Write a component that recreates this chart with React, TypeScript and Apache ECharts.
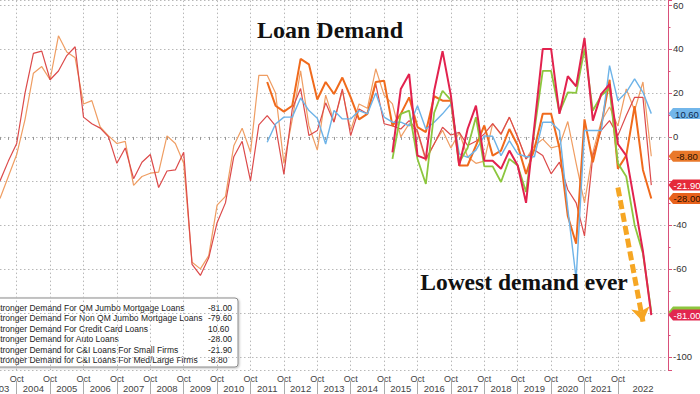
import React, { useEffect, useRef } from 'react';
import * as echarts from 'echarts';

// Quarterly categories from mid-2003 to mid-2023
const START_YEAR = 2003.5;
const N_CATS = 81;
const categories: string[] = Array.from({ length: N_CATS }, (_, i) => {
  const t = START_YEAR + i / 4;
  const y = Math.floor(t);
  const q = Math.round((t - y) * 4) + 1;
  return `${y} Q${q}`;
});

// Series values (index 0 = first category)
const cniLargeStart = 0;
const cniLarge = [
  -28, -18, -8, 8, 29, 32, 26, 46, 38.6, 36, 15, 16.5, 4.5, 0.5, -3, -2, -22, -18, -16.5, -16,
  0.5, -3, -12, -57, -60, -54, -31, -27, -4, 4, -7, 28, 28, 20, -12, 8, 30, 5, -6, 19,
  7, 21, 3, 15, 13, 31, 19, 15, 0, 6, 2, -11, -3, 3, -5, 2, -9, -12, -11, 6,
  1, 9, 0, -10, -4, -1, -5, -4, 7, -12, -30, -7, 7, 13.6, 5, 21.8, 12, 25, -8.8,
];
const cniSmallStart = 0;
const cniSmall = [
  -20, -11, -3, 20, 38, 39, 26, 30, 37, 41, 9, 6, 4, 0, -12, -5, -19, -11.5, -8, -23,
  -15.5, -15, -7, -58, -63, -55, -39, -30, -9, -2, -20, 5.5, 9.7, 5, -17, 12.7, 22, 0.6, 2.9, 15.5,
  6.7, 21.8, 0.6, 12.7, 10.5, 24, 6, 5, 3.6, 7.4, 2.7, -10, -3.2, 4.4, 0.9, 2.1, -3.9, -2, 1.4, 6,
  1.4, 9, 0, -10, -6, -8.5, -16.8, -11.5, -24, -30, -45, -8.5, 3, 7.4, 0.6, 9.7, 18, 18, -21.9,
];
const creditCardStart = 32;
const creditCard = [
  -2.4, 5.9, 9, 9, 17.7, 12, 8.5, -3.2, 12, 8.2, 8.2, 12, 10.5, 20, 9, 6.7, 6.7, 5, 14.2, 3.6,
  6.7, 10.5, 15, -7.7, -9.3, -6, 0.5, 0.3, -8.5, -1.7, -7.7, -9, -9, 6.7, 6.7, 2.9, -32.7, -64.5, 2.9, 2.9,
  2.9, 32.4, 16.5, 20.3, 26.4, 20.3, 10.6,
];
const autoStart = 32;
const autoLoans = [
  25, 14.2, 11.5, 14.2, 35.5, 33, 17, 25, 19.5, 27, 18, 8, 10.5, 25, 25.6, 5, 10.5, 18, 4.5, 2.2,
  18.5, 16.5, 16.5, -13, -13, -4, 5.2, -8.5, -6.2, 3.6, -3.9, -16.8, -5.5, 10.5, 10.5, -5, -36, -48.6, 8, -11.5,
  5, 26, -14.5, -8.5, 14, -15, -28,
];
const nonQmStart = 47;
const nonQmJumbo = [
  -10, 10.5, 12, -10, -21.4, 11, 21, 16.7, -11.5, -5, 9, -13.4, -13.4, -20.5, -10, -13, -25, 3, 30, 30,
  11.2, 20.3, 20, 40, 12, 18.8, 22, -12, -18, -40, -53, -79.6,
];
const qmStart = 47;
const qmJumbo = [
  -7, 21.8, 28.6, -8.5, -10, 21, 39, 18.8, -13, 3.6, 14.2, -10.8, -10.8, -14.5, -6.2, -13, -30, 5, 40, 40,
  10.5, 27.6, 23, 45, 7.4, 19.5, 24, -3.2, -8.5, -30, -52, -81,
];

// y-axis labels that sit under the value tags in the reference
const hiddenYLabels = [-80, -20];

const names = [
  'Stronger Demand For QM Jumbo Mortgage Loans',
  'Stronger Demand For Non QM Jumbo Mortgage Loans',
  'Stronger Demand For Credit Card Loans',
  'Stronger Demand for Auto Loans',
  'Stronger Demand for C&I Loans For Small Firms',
  'Stronger Demand for C&I Loans For Med/Large Firms',
];

const FONT = '"Liberation Sans", Arial, sans-serif';
const SERIF = '"Liberation Serif", "DejaVu Serif", serif';

function pad(start: number, vals: number[]) {
  const a: (number | null)[] = new Array(N_CATS).fill(null);
  vals.forEach((v, i) => (a[start + i] = v));
  return a;
}

const tagPath = 'path://M0,5.5L4.5,0L33,0L33,11L4.5,11Z';

function makeSeries(
  name: string,
  start: number,
  vals: number[],
  color: string,
  width: number,
  tagColor: string,
  tagText: string,
  z: number,
  showTagText = true,
) {
  const last = vals[vals.length - 1];
  return {
    name,
    type: 'line',
    data: pad(start, vals),
    symbol: 'none',
    z,
    lineStyle: { color, width },
    itemStyle: { color },
    connectNulls: false,
    markPoint: {
      silent: true,
      symbol: tagPath,
      symbolSize: [33, 11],
      symbolOffset: [17, 0],
      symbolKeepAspect: false,
      itemStyle: { color: tagColor },
      label: {
        show: showTagText,
        position: 'inside',
        offset: [2, 0.5],
        formatter: last.toFixed(2),
        color: tagText,
        fontSize: 9.5,
        fontFamily: FONT,
      },
      data: [{ coord: [categories[N_CATS - 1], last], value: last }],
    },
  } as any;
}

export default function App() {
  const ref = useRef<HTMLDivElement>(null);
  useEffect(() => {
    document.body.style.margin = '0';
    if (!ref.current) return;
    const chart = echarts.init(ref.current, undefined, { renderer: 'svg' });

    const isYearStart = (i: number) => i % 4 === 2 && i >= 2 && i <= 74;

    const series = [
      makeSeries(names[5], cniLargeStart, cniLarge, '#ef9d62', 1.2, '#e9782a', '#2a1200', 2),
      makeSeries(names[4], cniSmallStart, cniSmall, '#dc4a4a', 1.2, '#e52a3a', '#ffffff', 2),
      makeSeries(names[3], autoStart, autoLoans, '#f06a1c', 2, '#e8621c', '#2a1000', 2),
      makeSeries(names[2], creditCardStart, creditCard, '#6db3e8', 1.4, '#72b6ea', '#0e2a4e', 2),
      makeSeries(names[1], nonQmStart, nonQmJumbo, '#8cc63e', 1.8, '#8cc63e', '#16300a', 2, false),
      makeSeries(names[0], qmStart, qmJumbo, '#e2224e', 2, '#e2264f', '#ffffff', 3),
    ];
    // annotation arrow
    series[5].markLine = {
      silent: true,
      symbol: ['none', 'arrow'],
      symbolSize: [14, 14],
      lineStyle: { color: '#f6a623', width: 5, type: [9, 4], opacity: 1 },
      label: { show: false },
      data: [[{ coord: [categories[74], -23] }, { coord: [categories[77], -84] }]],
    };

    const legendRows = [
      { name: names[0], v: qmJumbo[qmJumbo.length - 1] },
      { name: names[1], v: nonQmJumbo[nonQmJumbo.length - 1] },
      { name: names[2], v: creditCard[creditCard.length - 1] },
      { name: names[3], v: autoLoans[autoLoans.length - 1] },
      { name: names[4], v: cniSmall[cniSmall.length - 1] },
      { name: names[5], v: cniLarge[cniLarge.length - 1] },
    ];
    const legendChildren: any[] = [
      {
        type: 'rect',
        shape: { x: -10, y: 298, width: 248, height: 69, r: 3 },
        style: { fill: '#ffffff', stroke: '#8a8a8a', lineWidth: 1, shadowColor: 'rgba(0,0,0,0.25)', shadowBlur: 2, shadowOffsetX: 1, shadowOffsetY: 1 },
      },
    ];
    legendRows.forEach((r, k) => {
      const y = 308 + k * 10.4;
      legendChildren.push({
        type: 'text',
        x: -5.5,
        y,
        style: { text: r.name, font: `8.5px ${FONT}`, fill: '#222', align: 'left', verticalAlign: 'middle' },
      });
      legendChildren.push({
        type: 'text',
        x: 208,
        y,
        style: { text: r.v.toFixed(2), font: `8.5px ${FONT}`, fill: '#222', align: 'left', verticalAlign: 'middle' },
      });
    });

    const option: any = {
      animation: false,
      textStyle: { fontFamily: FONT },
      grid: { left: 0, right: 32, top: 0, bottom: 24, containLabel: false },
      xAxis: [
        {
          type: 'category',
          data: categories,
          boundaryGap: false,
          axisLine: { show: false },
          axisTick: { show: true, interval: 0, length: 3, lineStyle: { color: '#999' } },
          axisLabel: {
            interval: (i: number) => isYearStart(i),
            formatter: () => 'Oct',
            fontSize: 9,
            color: '#444',
            margin: 4,
            fontFamily: FONT,
          },
          splitLine: {
            show: true,
            interval: (i: number) => isYearStart(i),
            lineStyle: { type: [1.5, 2.5], color: '#b8b8b8', width: 1 },
          },
        },
        {
          type: 'category',
          data: categories,
          boundaryGap: false,
          position: 'bottom',
          offset: 11,
          axisLine: { show: false },
          axisTick: { show: true, interval: (i: number) => isYearStart(i), length: 13, lineStyle: { color: '#aaa' } },
          axisLabel: {
            interval: (i: number) => (i % 4 === 0 && i >= 4 && i <= 72) || i === 77,
            formatter: (_v: string, i: number) => String(Math.floor(START_YEAR + i / 4)),
            fontSize: 9.5,
            color: '#444',
            margin: 2,
            fontFamily: FONT,
          },
          splitLine: { show: false },
        },
      ],
      yAxis: {
        type: 'value',
        position: 'right',
        min: -106,
        max: 62,
        splitNumber: 8,
        minInterval: 20,
        maxInterval: 20,
        axisLine: { show: true, lineStyle: { color: '#d9507a', width: 1 } },
        axisTick: { show: true, length: 4, lineStyle: { color: '#d9507a' } },
        minorTick: { show: true, splitNumber: 2, length: 2.5, lineStyle: { color: '#d9507a' } },
        axisLabel: {
          showMinLabel: false,
          showMaxLabel: false,
          fontSize: 9.5,
          color: '#333',
          margin: 5,
          fontFamily: FONT,
          formatter: (v: number) => (hiddenYLabels.includes(v) ? '' : String(v)),
        },
        splitLine: { show: true, lineStyle: { type: [1.5, 2.5], color: '#b8b8b8', width: 1 } },
      },
      series,
      graphic: [
        {
          type: 'text',
          x: 330,
          y: 30,
          z: 10,
          style: {
            text: 'Loan Demand',
            font: `bold 24px ${SERIF}`,
            fill: '#111',
            align: 'center',
            verticalAlign: 'middle',
            shadowColor: 'rgba(0,0,0,0.45)',
            shadowBlur: 3,
            shadowOffsetX: 2,
            shadowOffsetY: 2,
          },
        },
        {
          type: 'text',
          x: 524,
          y: 282,
          z: 10,
          style: {
            text: 'Lowest demand ever',
            font: `bold 23.5px ${SERIF}`,
            fill: '#111',
            align: 'center',
            verticalAlign: 'middle',
            shadowColor: 'rgba(0,0,0,0.45)',
            shadowBlur: 3,
            shadowOffsetX: 2,
            shadowOffsetY: 2,
          },
        },
        {
          type: 'text',
          x: 4,
          y: 388,
          style: { text: '03', font: `9.5px ${FONT}`, fill: '#444', align: 'center', verticalAlign: 'middle' },
        },
        { type: 'group', z: 20, children: legendChildren },
      ],
    };
    chart.setOption(option);
    return () => chart.dispose();
  }, []);
  return <div ref={ref} style={{ width: 700, height: 394 }} />;
}
